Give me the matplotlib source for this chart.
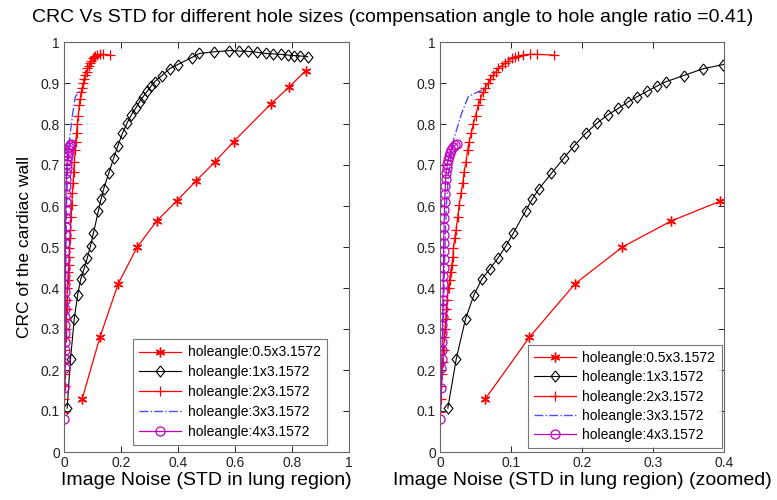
import numpy as np
import matplotlib
matplotlib.use('Agg')
import matplotlib.pyplot as plt

plt.rcParams['font.family'] = ['Liberation Sans', 'DejaVu Sans']

# datos
labels = ['holeangle:0.5x3.1572', 'holeangle:1x3.1572', 'holeangle:2x3.1572',
          'holeangle:3x3.1572', 'holeangle:4x3.1572']

x1 = [0.064, 0.126, 0.190, 0.257, 0.325, 0.395, 0.463, 0.530, 0.595, 0.726, 0.791, 0.848]
y1 = [0.130, 0.280, 0.410, 0.500, 0.563, 0.612, 0.661, 0.708, 0.757, 0.849, 0.891, 0.930]

x2 = [0.011, 0.023, 0.036, 0.048, 0.059, 0.070, 0.082, 0.093, 0.103, 0.121, 0.130, 0.139,
      0.157, 0.174, 0.189, 0.205, 0.221, 0.236, 0.251, 0.265, 0.278, 0.292, 0.305, 0.318,
      0.343, 0.371, 0.399, 0.448, 0.475, 0.526, 0.580, 0.615, 0.647, 0.678, 0.708, 0.734,
      0.760, 0.787, 0.807, 0.828, 0.855]
y2 = [0.107, 0.228, 0.325, 0.384, 0.422, 0.446, 0.474, 0.503, 0.533, 0.589, 0.617, 0.641,
      0.680, 0.716, 0.747, 0.777, 0.802, 0.822, 0.838, 0.854, 0.867, 0.880, 0.892, 0.903,
      0.918, 0.935, 0.945, 0.962, 0.972, 0.976, 0.979, 0.978, 0.977, 0.975, 0.972, 0.971,
      0.970, 0.968, 0.967, 0.966, 0.964]

x3 = [0.000, 0.001, 0.002, 0.003, 0.004, 0.005, 0.006, 0.007, 0.008, 0.009, 0.010, 0.012,
      0.0135, 0.015, 0.0165, 0.018, 0.019, 0.0207, 0.0225, 0.025, 0.027, 0.0296, 0.032,
      0.034, 0.0366, 0.039, 0.041, 0.044, 0.047, 0.050, 0.054, 0.057, 0.061, 0.064, 0.068,
      0.071, 0.075, 0.079, 0.082, 0.087, 0.0915, 0.096, 0.101, 0.106, 0.110, 0.117, 0.127,
      0.136, 0.160]
y3 = [0.098, 0.130, 0.160, 0.190, 0.220, 0.250, 0.280, 0.300, 0.325, 0.350, 0.370, 0.400,
      0.420, 0.440, 0.455, 0.475, 0.497, 0.521, 0.541, 0.574, 0.602, 0.631, 0.655, 0.684,
      0.708, 0.737, 0.757, 0.777, 0.800, 0.820, 0.846, 0.862, 0.879, 0.889, 0.899, 0.910,
      0.920, 0.928, 0.936, 0.942, 0.948, 0.954, 0.960, 0.963, 0.966, 0.968, 0.970, 0.970,
      0.968]

x4 = [0.001, 0.003, 0.005, 0.007, 0.009, 0.012, 0.016, 0.019, 0.0305, 0.040, 0.054, 0.061]
y4 = [0.100, 0.200, 0.350, 0.500, 0.600, 0.680, 0.730, 0.761, 0.826, 0.867, 0.879, 0.883]

x5 = [0.000, 0.0015, 0.002, 0.0025, 0.003, 0.003, 0.0035, 0.0035, 0.004, 0.004, 0.004,
      0.0045, 0.0045, 0.0045, 0.005, 0.005, 0.005, 0.0052, 0.0055, 0.0057, 0.006, 0.0063,
      0.0066, 0.007, 0.0075, 0.008, 0.0085, 0.0095, 0.0105, 0.0115, 0.013, 0.0145, 0.016,
      0.018, 0.021, 0.024]
y5 = [0.080, 0.155, 0.204, 0.228, 0.248, 0.268, 0.290, 0.310, 0.330, 0.350, 0.370, 0.390,
      0.410, 0.430, 0.450, 0.470, 0.490, 0.510, 0.530, 0.550, 0.570, 0.590, 0.610, 0.630,
      0.650, 0.665, 0.680, 0.692, 0.703, 0.713, 0.722, 0.730, 0.737, 0.743, 0.748, 0.752]

asterisco = (6, 2, 0)
rombo = [(0, 1), (0.8, 0), (0, -1), (-0.8, 0), (0, 1)]

fig = plt.figure(figsize=(7.77, 5.0), dpi=100)
ax1 = fig.add_axes([64/777, 48/500, 285/777, 410/500])
ax2 = fig.add_axes([440/777, 48/500, 284/777, 410/500])


def dibujar(ax):
    ax.plot(x1, y1, color='r', lw=0.9, marker=asterisco, ms=7, mew=1.0, label=labels[0])
    ax.plot(x2, y2, color='k', lw=0.8, marker=rombo, ms=8, mfc='none', mew=0.8, label=labels[1])
    ax.plot(x3, y3, color='r', lw=0.9, marker='+', ms=7.5, mew=0.9, label=labels[2])
    ax.plot(x4, y4, color='#4d4dff', lw=1.0, ls='-.', label=labels[3])
    ax.plot(x5, y5, color='m', lw=0.9, marker='o', ms=6.5, mfc='none', mew=0.9, label=labels[4])
    ax.set_ylim(0, 1)
    ax.set_yticks(np.arange(0, 1.01, 0.1))
    ax.set_yticklabels(['0', '0.1', '0.2', '0.3', '0.4', '0.5', '0.6', '0.7', '0.8', '0.9', '1'])
    ax.tick_params(direction='in', top=True, right=True, length=4, width=0.7,
                   labelsize=10, colors='#222222', pad=3)
    for s in ax.spines.values():
        s.set_color('#666666')
        s.set_linewidth(0.8)


dibujar(ax1)
ax1.set_xlim(0, 1)
ax1.set_xticks([0, 0.2, 0.4, 0.6, 0.8, 1])
ax1.set_xticklabels(['0', '0.2', '0.4', '0.6', '0.8', '1'])
ax1.set_xlabel('Image Noise (STD in lung region)', fontsize=14, labelpad=1)
ax1.set_ylabel('CRC of the cardiac wall', fontsize=12.5, labelpad=6)
leg1 = ax1.legend(loc='lower right', bbox_to_anchor=(0.924, 0.017), borderaxespad=0,
                  fontsize=10, fancybox=False, edgecolor='#555555', handlelength=3.0,
                  labelspacing=0.42, borderpad=0.45, handletextpad=0.5)
leg1.get_frame().set_linewidth(0.8)

dibujar(ax2)
ax2.set_xlim(0, 0.4)
ax2.set_xticks([0, 0.1, 0.2, 0.3, 0.4])
ax2.set_xticklabels(['0', '0.1', '0.2', '0.3', '0.4'])
ax2.set_xlabel('Image Noise (STD in lung region) (zoomed)', fontsize=14, labelpad=1)
leg2 = ax2.legend(loc='lower right', bbox_to_anchor=(0.992, 0.009), borderaxespad=0,
                  fontsize=10, fancybox=False, edgecolor='#555555', handlelength=3.0,
                  labelspacing=0.38, borderpad=0.45, handletextpad=0.5)
leg2.get_frame().set_linewidth(0.8)

fig.suptitle('CRC Vs STD for different hole sizes (compensation angle to hole angle ratio =0.41)',
             fontsize=14, x=0.505, y=1 - 17/500, va='center')

plt.savefig('out.png', dpi=100)
